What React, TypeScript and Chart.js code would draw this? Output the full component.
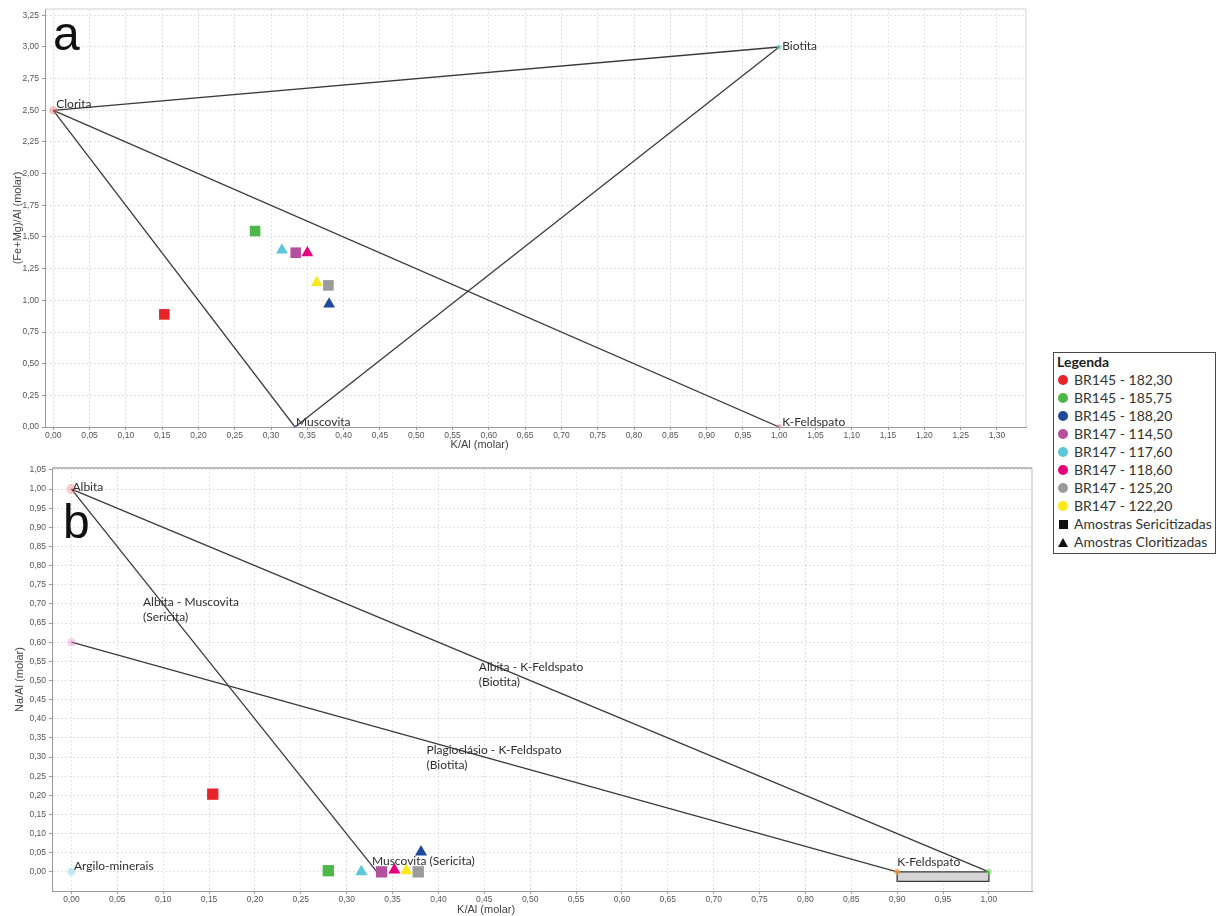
import React, { useEffect, useRef } from 'react';
import { Chart, registerables } from 'chart.js';

Chart.register(...registerables);

// ---------------- DATA ----------------
const SAMPLE_NAMES = [
  'BR145 - 182,30',
  'BR145 - 185,75',
  'BR145 - 188,20',
  'BR147 - 114,50',
  'BR147 - 117,60',
  'BR147 - 118,60',
  'BR147 - 125,20',
  'BR147 - 122,20',
];
const SAMPLE_COLORS = ['#e8242b', '#4db848', '#1f4a9c', '#b5509f', '#5ec6da', '#e5007d', '#9b9b9b', '#fbe916'];
const SAMPLE_SHAPES = ['rect', 'rect', 'triangle', 'rect', 'triangle', 'triangle', 'rect', 'triangle'];

// Diagram a: K/Al vs (Fe+Mg)/Al
const A_K_AL = [0.153, 0.278, 0.38, 0.334, 0.315, 0.35, 0.379, 0.363];
const A_FEMG_AL = [0.889, 1.547, 0.971, 1.376, 1.396, 1.375, 1.118, 1.14];

// Diagram b: K/Al vs Na/Al
const B_K_AL = [0.154, 0.28, 0.381, 0.338, 0.316, 0.352, 0.378, 0.365];
const B_NA_AL = [0.203, 0.003, 0.052, 0.0, 0.0, 0.005, 0.0, 0.003];

// End-members, diagram a
const A_END_NAMES = ['Clorita', 'Biotita', 'Muscovita', 'K-Feldspato'];
const A_END_K_AL = [0, 1, 0.333, 1];
const A_END_FEMG_AL = [2.5, 3.0, 0, 0];
const A_TIE_LINES = [[0, 1], [0, 2], [0, 3], [2, 1]];

// End-members, diagram b
const B_END_NAMES = ['Albita', 'Plagioclásio', 'Argilo-minerais', 'Muscovita (Sericita)', 'K-Feldspato', ''];
const B_END_K_AL = [0, 0, 0, 0.333, 0.9, 1.0];
const B_END_NA_AL = [1.0, 0.6, 0, 0, 0, 0];
const B_TIE_LINES = [[0, 3], [0, 5], [1, 4]];
const B_KFS_FIELD_K_AL = [0.9, 1.0];
const B_KFS_FIELD_NA_AL = [-0.025, 0];

// Field / tie-line names, diagram b
const B_FIELD_TEXT = [
  ['Albita - Muscovita', '(Sericita)'],
  ['Albita - K-Feldspato', '(Biotita)'],
  ['Plagioclásio - K-Feldspato', '(Biotita)'],
];
const B_FIELD_K_AL = [0.078, 0.444, 0.387];
const B_FIELD_NA_AL = [0.705, 0.535, 0.3185];

// Tick values
const A_X_TICKS = [0, 0.05, 0.1, 0.15, 0.2, 0.25, 0.3, 0.35, 0.4, 0.45, 0.5, 0.55, 0.6, 0.65, 0.7, 0.75, 0.8, 0.85, 0.9, 0.95, 1, 1.05, 1.1, 1.15, 1.2, 1.25, 1.3];
const A_Y_TICKS = [0, 0.25, 0.5, 0.75, 1, 1.25, 1.5, 1.75, 2, 2.25, 2.5, 2.75, 3, 3.25];
const B_X_TICKS = [0, 0.05, 0.1, 0.15, 0.2, 0.25, 0.3, 0.35, 0.4, 0.45, 0.5, 0.55, 0.6, 0.65, 0.7, 0.75, 0.8, 0.85, 0.9, 0.95, 1];
const B_Y_TICKS = [0, 0.05, 0.1, 0.15, 0.2, 0.25, 0.3, 0.35, 0.4, 0.45, 0.5, 0.55, 0.6, 0.65, 0.7, 0.75, 0.8, 0.85, 0.9, 0.95, 1, 1.05];

// ---------------- STYLE ----------------
const A_END_COLORS = ['rgba(240,110,110,0.45)', 'rgba(90,210,180,0.6)', 'rgba(120,120,220,0.5)', 'rgba(240,120,150,0.5)'];
const A_END_RADII = [4, 2.5, 2, 3];
const A_LABEL_OFFSETS = [[3, -6], [3, -1], [1, -5], [3, -5]];
const B_END_COLORS = ['rgba(240,140,140,0.45)', 'rgba(230,130,210,0.4)', 'rgba(160,220,240,0.6)', 'rgba(0,0,0,0)', 'rgba(250,160,60,0.7)', 'rgba(120,220,100,0.6)'];
const B_END_RADII = [5, 4, 4, 0, 3, 3];
const B_LABEL_OFFSETS = [[1, -2], [0, 0], [2.5, -6], [-5, -11], [0, -10], [0, 0]];

const fmt = (v: number) => Number(v).toFixed(2).replace('.', ',');
const LINE_COLOR = '#3a3a3a';
const LABEL_FONT = '12px Lato, "Open Sans", sans-serif';

type AxisCfg = {
  min: number;
  max: number;
  ticks: number[];
  horizontal: boolean;
  size: number;
  title?: string;
  titlePad?: number;
};

function makeAxis(c: AxisCfg) {
  return {
    type: 'linear',
    position: c.horizontal ? 'bottom' : 'left',
    min: c.min,
    max: c.max,
    afterBuildTicks: (s: any) => {
      s.ticks = c.ticks.map((v) => ({ value: v }));
    },
    afterFit: (s: any) => {
      if (c.horizontal) s.height = c.size;
      else s.width = c.size;
    },
    ticks: {
      autoSkip: false,
      maxRotation: 0,
      minRotation: 0,
      padding: c.horizontal ? 1 : 3,
      color: '#555',
      font: { family: '"Liberation Sans", Arial, sans-serif', size: 8.5 },
      callback: (v: any) => fmt(v),
    },
    grid: {
      color: 'rgba(0,0,0,0.11)',
      lineWidth: 1,
      drawTicks: true,
      tickLength: 3,
      tickColor: '#9a9a9a',
      tickWidth: 1,
    },
    border: { display: true, color: '#9a9a9a', width: 1, dash: [2, 2] },
    title: c.title
      ? {
          display: true,
          text: c.title,
          color: '#444',
          font: { family: '"Liberation Sans", Arial, sans-serif', size: 11 },
          padding: { top: c.titlePad || 0, bottom: 0 },
        }
      : { display: false },
  };
}

type Label = { lines: string[]; x: number; y: number; dx: number; dy: number };

function annotPlugin(cfg: {
  labels: Label[];
  letter: string;
  letterDx: number;
  letterDy: number;
  xTitle: string;
  xTitleFrac: number;
  xTitleDy: number;
  frameColor: string;
  frameTopWidth: number;
}) {
  return {
    id: 'annot',
    beforeDatasetsDraw(chart: any) {
      const { ctx, chartArea: a } = chart;
      ctx.save();
      ctx.strokeStyle = cfg.frameColor;
      ctx.lineWidth = cfg.frameTopWidth;
      ctx.beginPath();
      ctx.moveTo(a.left, a.top);
      ctx.lineTo(a.right, a.top);
      ctx.stroke();
      ctx.lineWidth = 1;
      ctx.beginPath();
      ctx.moveTo(a.right, a.top);
      ctx.lineTo(a.right, a.bottom);
      ctx.stroke();
      ctx.restore();
    },
    afterDatasetsDraw(chart: any) {
      const { ctx, chartArea: a } = chart;
      const xs = chart.scales.x;
      const ys = chart.scales.y;
      ctx.save();
      ctx.font = LABEL_FONT;
      ctx.fillStyle = '#2e2e2e';
      ctx.textAlign = 'left';
      ctx.textBaseline = 'middle';
      cfg.labels.forEach((l) => {
        const px = xs.getPixelForValue(l.x) + l.dx;
        const py = ys.getPixelForValue(l.y) + l.dy;
        l.lines.forEach((t, k) => ctx.fillText(t, px, py + k * 15.5));
      });
      ctx.font = '48px "Liberation Sans", Arial, sans-serif';
      ctx.fillStyle = '#111';
      ctx.textBaseline = 'alphabetic';
      ctx.fillText(cfg.letter, a.left + cfg.letterDx, a.top + cfg.letterDy);
      ctx.restore();
    },
    afterDraw(chart: any) {
      const { ctx, chartArea: a } = chart;
      ctx.save();
      ctx.font = '11px "Liberation Sans", Arial, sans-serif';
      ctx.fillStyle = '#444';
      ctx.textAlign = 'center';
      ctx.textBaseline = 'middle';
      ctx.fillText(cfg.xTitle, a.left + cfg.xTitleFrac * (a.right - a.left), a.bottom + cfg.xTitleDy);
      ctx.restore();
    },
  };
}

function sampleDatasets(xs: number[], ys: number[], rectR: number, triR: number) {
  return SAMPLE_NAMES.map((name, i) => ({
    type: 'scatter',
    label: name,
    data: [{ x: xs[i], y: ys[i] }],
    pointStyle: SAMPLE_SHAPES[i],
    pointRadius: SAMPLE_SHAPES[i] === 'rect' ? rectR : triR,
    backgroundColor: SAMPLE_COLORS[i],
    borderColor: SAMPLE_COLORS[i],
    borderWidth: 0,
    showLine: false,
  }));
}

function tieLineDatasets(lines: number[][], ex: number[], ey: number[]) {
  return lines.map(([p, q]) => ({
    type: 'line',
    label: 'tie',
    data: [
      { x: ex[p], y: ey[p] },
      { x: ex[q], y: ey[q] },
    ],
    borderColor: LINE_COLOR,
    borderWidth: 1.3,
    pointRadius: 0,
    fill: false,
    tension: 0,
  }));
}

function endMemberDataset(ex: number[], ey: number[], colors: string[], radii: number[]) {
  return {
    type: 'scatter',
    label: 'end-members',
    data: ex.map((x, i) => ({ x, y: ey[i] })),
    pointStyle: 'circle',
    pointRadius: radii,
    backgroundColor: colors,
    borderWidth: 0,
    showLine: false,
  };
}

function baseOptions(padding: any, scales: any) {
  return {
    responsive: false,
    maintainAspectRatio: false,
    animation: false,
    devicePixelRatio: 1,
    events: [],
    layout: { padding },
    plugins: { legend: { display: false }, tooltip: { enabled: false } },
    scales,
  };
}

function ChartA() {
  const ref = useRef<HTMLCanvasElement>(null);
  useEffect(() => {
    if (!ref.current) return;
    const labels: Label[] = A_END_NAMES.map((n, i) => ({
      lines: [n],
      x: A_END_K_AL[i],
      y: A_END_FEMG_AL[i],
      dx: A_LABEL_OFFSETS[i][0],
      dy: A_LABEL_OFFSETS[i][1],
    }));
    const chart = new Chart(ref.current, {
      type: 'scatter',
      data: {
        datasets: [
          ...sampleDatasets(A_K_AL, A_FEMG_AL, 7.5, 6.8),
          endMemberDataset(A_END_K_AL, A_END_FEMG_AL, A_END_COLORS, A_END_RADII),
          ...tieLineDatasets(A_TIE_LINES, A_END_K_AL, A_END_FEMG_AL),
        ] as any,
      },
      options: baseOptions(
        { left: 0, top: 9, right: 14, bottom: 0 },
        {
          x: makeAxis({ min: -0.0114, max: 1.34, ticks: A_X_TICKS, horizontal: true, size: 23 }),
          y: makeAxis({ min: 0, max: 3.3, ticks: A_Y_TICKS, horizontal: false, size: 45, title: '(Fe+Mg)/Al (molar)', titlePad: 11 }),
        }
      ) as any,
      plugins: [
        annotPlugin({
          labels,
          letter: 'a',
          letterDx: 8,
          letterDy: 41,
          xTitle: 'K/Al (molar)',
          xTitleFrac: 0.443,
          xTitleDy: 18,
          frameColor: '#d2d2d2',
          frameTopWidth: 1,
        }) as any,
      ],
    });
    (document as any).fonts?.ready?.then(() => chart.canvas && chart.draw());
    return () => chart.destroy();
  }, []);
  return <canvas ref={ref} width={1040} height={450} style={{ position: 'absolute', left: 0, top: 0, display: 'block' }} />;
}

function ChartB() {
  const ref = useRef<HTMLCanvasElement>(null);
  useEffect(() => {
    if (!ref.current) return;
    const labels: Label[] = [];
    B_END_NAMES.forEach((n, i) => {
      if (n && i !== 1)
        labels.push({ lines: [n], x: B_END_K_AL[i], y: B_END_NA_AL[i], dx: B_LABEL_OFFSETS[i][0], dy: B_LABEL_OFFSETS[i][1] });
    });
    B_FIELD_TEXT.forEach((t, i) => labels.push({ lines: t, x: B_FIELD_K_AL[i], y: B_FIELD_NA_AL[i], dx: 0, dy: 0 }));
    const [x0, x1] = B_KFS_FIELD_K_AL;
    const [y0, y1] = B_KFS_FIELD_NA_AL;
    const chart = new Chart(ref.current, {
      type: 'scatter',
      data: {
        datasets: [
          ...sampleDatasets(B_K_AL, B_NA_AL, 8, 7),
          endMemberDataset(B_END_K_AL, B_END_NA_AL, B_END_COLORS, B_END_RADII),
          ...tieLineDatasets(B_TIE_LINES, B_END_K_AL, B_END_NA_AL),
          {
            type: 'line',
            label: 'K-Feldspato field',
            data: [
              { x: x0, y: y1 },
              { x: x1, y: y1 },
              { x: x1, y: y0 },
              { x: x0, y: y0 },
              { x: x0, y: y1 },
            ],
            borderColor: LINE_COLOR,
            borderWidth: 1.3,
            backgroundColor: '#d4d4d4',
            fill: 'shape',
            pointRadius: 0,
            tension: 0,
          },
        ] as any,
      },
      options: baseOptions(
        { left: 0, top: 18, right: 5, bottom: 0 },
        {
          x: makeAxis({ min: -0.0212, max: 1.047, ticks: B_X_TICKS, horizontal: true, size: 25 }),
          y: makeAxis({ min: -0.05, max: 1.055, ticks: B_Y_TICKS, horizontal: false, size: 52, title: 'Na/Al (molar)', titlePad: 13 }),
        }
      ) as any,
      plugins: [
        annotPlugin({
          labels,
          letter: 'b',
          letterDx: 11,
          letterDy: 70,
          xTitle: 'K/Al (molar)',
          xTitleFrac: 0.443,
          xTitleDy: 19,
          frameColor: '#bdbdbd',
          frameTopWidth: 2,
        }) as any,
      ],
    });
    (document as any).fonts?.ready?.then(() => chart.canvas && chart.draw());
    return () => chart.destroy();
  }, []);
  return <canvas ref={ref} width={1040} height={466} style={{ position: 'absolute', left: 0, top: 450, display: 'block' }} />;
}

function Legend() {
  const row: React.CSSProperties = { display: 'flex', alignItems: 'center', height: 18, whiteSpace: 'nowrap' };
  return (
    <div
      style={{
        position: 'absolute',
        left: 1053,
        top: 352,
        width: 163,
        height: 202,
        border: '1px solid #4a4a4a',
        boxSizing: 'border-box',
        background: '#fff',
        fontFamily: 'Lato, "Open Sans", sans-serif',
        fontSize: 14,
        lineHeight: '18px',
        color: '#333',
      }}
    >
      <div style={{ ...row, paddingLeft: 3, fontWeight: 700, color: '#1e1e1e' }}>Legenda</div>
      {SAMPLE_NAMES.map((n, i) => (
        <div key={n} style={row}>
          <span style={{ width: 10, height: 10, borderRadius: '50%', background: SAMPLE_COLORS[i], marginLeft: 4, marginRight: 6, flex: 'none' }} />
          {n}
        </div>
      ))}
      <div style={row}>
        <span style={{ width: 9, height: 9, background: '#111', marginLeft: 4.5, marginRight: 6.5, flex: 'none' }} />
        Amostras Sericitizadas
      </div>
      <div style={row}>
        <span
          style={{
            width: 0,
            height: 0,
            borderLeft: '5px solid transparent',
            borderRight: '5px solid transparent',
            borderBottom: '9px solid #111',
            marginLeft: 4,
            marginRight: 6,
            flex: 'none',
          }}
        />
        Amostras Cloritizadas
      </div>
    </div>
  );
}

export default function App() {
  return (
    <div style={{ position: 'absolute', left: 0, top: 0, width: 1225, height: 916, background: '#fff', overflow: 'hidden' }}>
      <ChartA />
      <ChartB />
      <Legend />
    </div>
  );
}
